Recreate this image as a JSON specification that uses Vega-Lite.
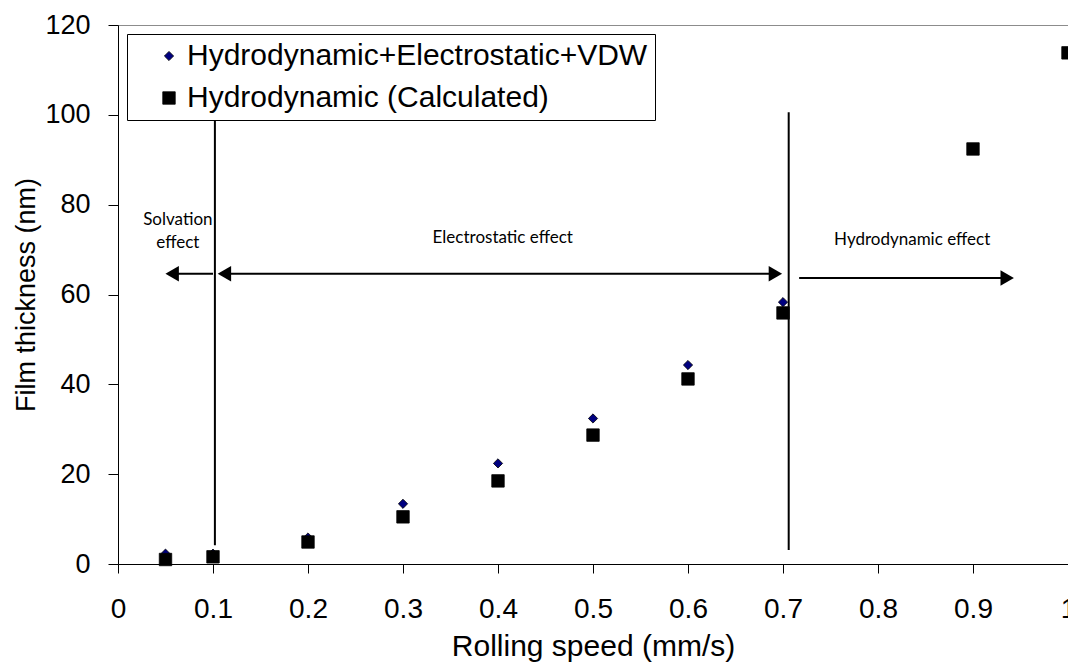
{
  "$schema": "https://vega.github.io/schema/vega-lite/v6.json",
  "width": 950,
  "height": 539,
  "autosize": {"type": "none"},
  "padding": {"left": 118, "top": 25, "right": 0, "bottom": 102},
  "background": "white",
  "config": {
    "font": "Liberation Sans",
    "view": {"stroke": "#8c8c8c", "strokeWidth": 1}
  },
  "datasets": {
    "pts": [
      {"speed": 0.05, "thickness": 2.3, "series": "Hydrodynamic+Electrostatic+VDW"},
      {"speed": 0.1, "thickness": 2.3, "series": "Hydrodynamic+Electrostatic+VDW"},
      {"speed": 0.2, "thickness": 5.9, "series": "Hydrodynamic+Electrostatic+VDW"},
      {"speed": 0.3, "thickness": 13.4, "series": "Hydrodynamic+Electrostatic+VDW"},
      {"speed": 0.4, "thickness": 22.4, "series": "Hydrodynamic+Electrostatic+VDW"},
      {"speed": 0.5, "thickness": 32.4, "series": "Hydrodynamic+Electrostatic+VDW"},
      {"speed": 0.6, "thickness": 44.3, "series": "Hydrodynamic+Electrostatic+VDW"},
      {"speed": 0.7, "thickness": 58.3, "series": "Hydrodynamic+Electrostatic+VDW"},
      {"speed": 0.05, "thickness": 1.0, "series": "Hydrodynamic (Calculated)"},
      {"speed": 0.1, "thickness": 1.6, "series": "Hydrodynamic (Calculated)"},
      {"speed": 0.2, "thickness": 4.9, "series": "Hydrodynamic (Calculated)"},
      {"speed": 0.3, "thickness": 10.5, "series": "Hydrodynamic (Calculated)"},
      {"speed": 0.4, "thickness": 18.5, "series": "Hydrodynamic (Calculated)"},
      {"speed": 0.5, "thickness": 28.7, "series": "Hydrodynamic (Calculated)"},
      {"speed": 0.6, "thickness": 41.2, "series": "Hydrodynamic (Calculated)"},
      {"speed": 0.7, "thickness": 55.9, "series": "Hydrodynamic (Calculated)"},
      {"speed": 0.9, "thickness": 92.4, "series": "Hydrodynamic (Calculated)"},
      {"speed": 1.0, "thickness": 113.8, "series": "Hydrodynamic (Calculated)"}
    ],
    "vlines": [
      {"x": 0.102, "y": 103.3, "y2": 4.2},
      {"x": 0.706, "y": 100.6, "y2": 3.1}
    ],
    "arrows": [
      {"x": 0.06, "x2": 0.1, "y": 64.6},
      {"x": 0.112, "x2": 0.69, "y": 64.6},
      {"x": 0.717, "x2": 0.935, "y": 63.7}
    ],
    "headsL": [
      {"x": 0.057, "y": 64.6},
      {"x": 0.112, "y": 64.6}
    ],
    "headsR": [
      {"x": 0.692, "y": 64.6},
      {"x": 0.936, "y": 63.7}
    ],
    "labels": [
      {"x": 0.063, "y": 76.6, "text": "Solvation"},
      {"x": 0.063, "y": 71.4, "text": "effect"},
      {"x": 0.405, "y": 72.6, "text": "Electrostatic effect"},
      {"x": 0.836, "y": 72.1, "text": "Hydrodynamic effect"}
    ]
  },
  "layer": [
    {
      "data": {"name": "pts"},
      "mark": {"type": "point", "filled": true, "strokeWidth": 0.8, "opacity": 1, "clip": false},
      "encoding": {
        "x": {
          "field": "speed", "type": "quantitative",
          "title": "Rolling speed (mm/s)",
          "scale": {"domain": [0, 1], "nice": false},
          "axis": {
            "title": "Rolling speed (mm/s)",
            "values": [0, 0.1, 0.2, 0.3, 0.4, 0.5, 0.6, 0.7, 0.8, 0.9, 1],
            "format": ".1~f",
            "grid": false,
            "domainColor": "#000000",
            "tickColor": "#000000",
            "tickSize": 9,
            "labelFontSize": 28,
            "labelColor": "#000000",
            "labelPadding": 22,
            "labelFlush": false,
            "labelOverlap": false,
            "titleFontSize": 30,
            "titleFontWeight": "normal",
            "titleColor": "#000000",
            "titlePadding": 8
          }
        },
        "y": {
          "field": "thickness", "type": "quantitative",
          "title": "Film thickness (nm)",
          "scale": {"domain": [0, 120], "nice": false},
          "axis": {
            "title": "Film thickness (nm)",
            "values": [0, 20, 40, 60, 80, 100, 120],
            "grid": false,
            "domainColor": "#000000",
            "tickColor": "#000000",
            "tickSize": 10,
            "labelFontSize": 27,
            "labelColor": "#000000",
            "labelPadding": 18,
            "labelFlush": false,
            "labelOverlap": false,
            "titleFontSize": 27,
            "titleFontWeight": "normal",
            "titleColor": "#000000",
            "titlePadding": 4
          }
        },
        "shape": {
          "field": "series", "type": "nominal",
          "scale": {"domain": ["Hydrodynamic+Electrostatic+VDW", "Hydrodynamic (Calculated)"], "range": ["diamond", "square"]},
          "legend": {
            "title": null,
            "orient": "none",
            "legendX": 9,
            "legendY": 9,
            "labelFontSize": 30,
            "labelColor": "#000000",
            "labelFont": "Liberation Sans",
            "labelLimit": 0,
            "labelExpr": "datum.label + '\u2002\u2002'",
            "strokeColor": "#000000",
            "fillColor": "#ffffff",
            "padding": 7,
            "rowPadding": 12,
            "labelOffset": 3,
            "symbolOffset": 20,
            "symbolOpacity": 1,
            "symbolStrokeWidth": 0.8
          }
        },
        "fill": {
          "field": "series", "type": "nominal",
          "scale": {"domain": ["Hydrodynamic+Electrostatic+VDW", "Hydrodynamic (Calculated)"], "range": ["#000080", "#000000"]}
        },
        "stroke": {
          "field": "series", "type": "nominal",
          "scale": {"domain": ["Hydrodynamic+Electrostatic+VDW", "Hydrodynamic (Calculated)"], "range": ["#000000", "#000000"]}
        },
        "size": {
          "field": "series", "type": "nominal",
          "scale": {"domain": ["Hydrodynamic+Electrostatic+VDW", "Hydrodynamic (Calculated)"], "range": [85, 155]}
        }
      }
    },
    {
      "data": {"name": "vlines"},
      "mark": {"type": "rule", "color": "#000000", "strokeWidth": 2},
      "encoding": {
        "x": {"field": "x", "type": "quantitative", "title": "Rolling speed (mm/s)"},
        "y": {"field": "y", "type": "quantitative", "title": "Film thickness (nm)"},
        "y2": {"field": "y2"}
      }
    },
    {
      "data": {"name": "arrows"},
      "mark": {"type": "rule", "color": "#000000", "strokeWidth": 2},
      "encoding": {
        "x": {"field": "x", "type": "quantitative", "title": "Rolling speed (mm/s)"},
        "x2": {"field": "x2"},
        "y": {"field": "y", "type": "quantitative", "title": "Film thickness (nm)"}
      }
    },
    {
      "data": {"name": "headsL"},
      "mark": {"type": "point", "shape": "triangle-left", "filled": true, "color": "#000000", "size": 240, "opacity": 1},
      "encoding": {
        "x": {"field": "x", "type": "quantitative", "title": "Rolling speed (mm/s)"},
        "y": {"field": "y", "type": "quantitative", "title": "Film thickness (nm)"}
      }
    },
    {
      "data": {"name": "headsR"},
      "mark": {"type": "point", "shape": "triangle-right", "filled": true, "color": "#000000", "size": 240, "opacity": 1},
      "encoding": {
        "x": {"field": "x", "type": "quantitative", "title": "Rolling speed (mm/s)"},
        "y": {"field": "y", "type": "quantitative", "title": "Film thickness (nm)"}
      }
    },
    {
      "data": {"name": "labels"},
      "mark": {"type": "text", "font": "Lato", "fontSize": 17, "color": "#000000", "align": "center", "baseline": "middle"},
      "encoding": {
        "x": {"field": "x", "type": "quantitative", "title": "Rolling speed (mm/s)"},
        "y": {"field": "y", "type": "quantitative", "title": "Film thickness (nm)"},
        "text": {"field": "text"}
      }
    }
  ]
}
